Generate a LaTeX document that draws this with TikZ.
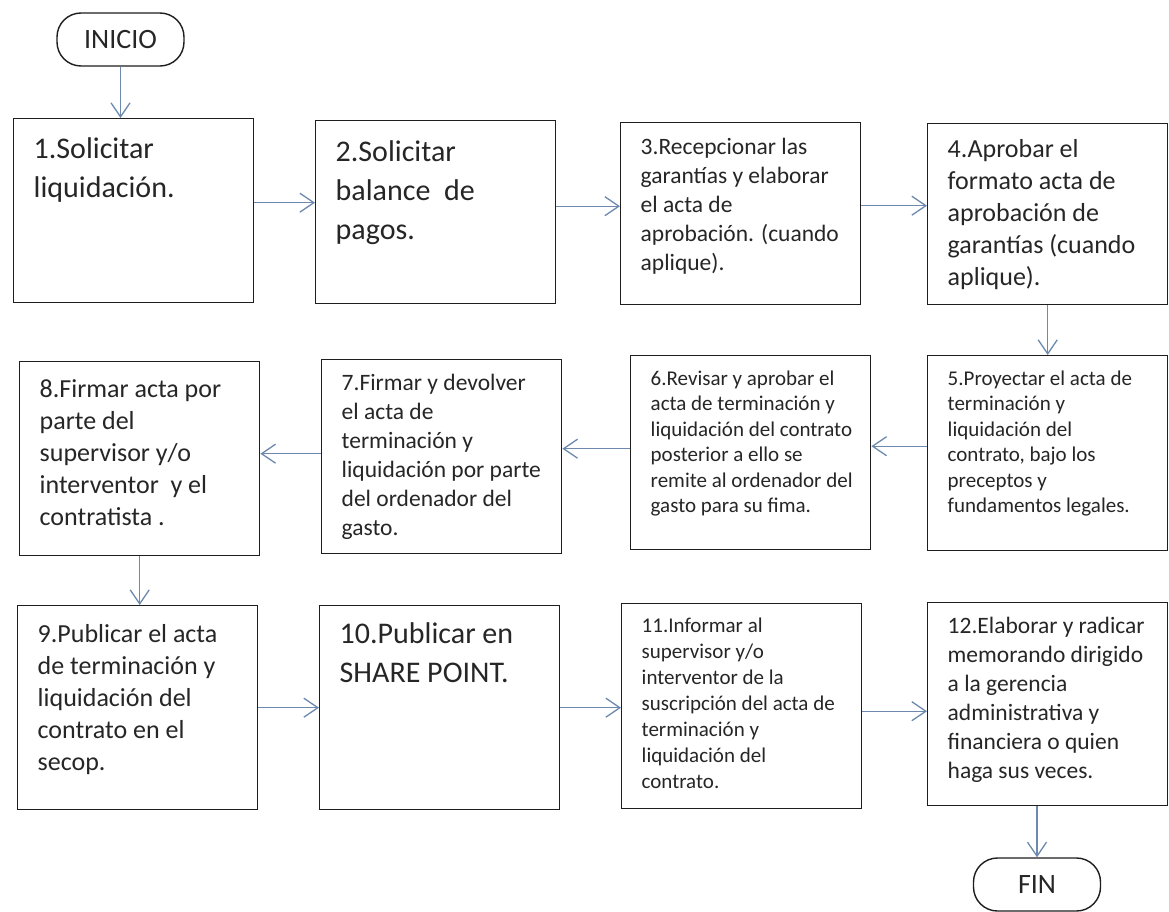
\documentclass[tikz,border=0pt]{standalone}
\usepackage{fontspec}
\setmainfont{Carlito}
\usepackage{xcolor}
\usepackage{tikz}
\usetikzlibrary{calc,arrows.meta}
\definecolor{bg}{HTML}{FFFFFF}
\definecolor{ink}{HTML}{262626}
\definecolor{edge}{HTML}{1E1E1E}
\definecolor{flowc}{HTML}{6D89AE}
\tikzset{
  box/.style={draw=edge, line width=1.4pt, anchor=north west, inner sep=0pt, text=ink},
  term/.style={draw=edge, line width=1.4pt, rounded corners=24pt, minimum width=127pt, minimum height=53pt, inner sep=0pt, text=ink, font=\fontsize{28}{32}\selectfont},
  flow/.style={draw=flowc, line width=1.3pt, -{Straight Barb[length=14pt,width=19pt]}},
  s30/.style={font=\fontsize{30}{39}\selectfont},
  s25/.style={font=\fontsize{26}{32}\selectfont},
  s23/.style={font=\fontsize{23.5}{29}\selectfont},
  s21/.style={font=\fontsize{21}{25.5}\selectfont},
  s20/.style={font=\fontsize{21}{26}\selectfont},
}
\newcommand{\paso}[3]{\parbox[t][#1pt][t]{240pt}{\leftskip=20pt\rightskip=0pt plus 1fil\vspace*{#2pt}#3}}

\begin{document}
\begin{tikzpicture}[x=1pt,y=-1pt]
  \fill[bg] (0,0) rectangle (1169,912);
  \useasboundingbox (0,0) rectangle (1169,912);
  \node[term] (ini) at (120.5,39.5) {INICIO};
  \node[box, s30] (b1) at (13,118) {\paso{184}{19}{1.Solicitar\\liquidación.}};
  \node[box, s30] (b2) at (315,120) {\paso{183}{20}{2.Solicitar\\balance~ de\\pagos.}};
  \node[box, s23] (b3) at (620,122) {\paso{182}{15}{3.Recepcionar las\\garantías y elaborar\\el acta de\\aprobación. (cuando\\aplique).}};
  \node[box, s25] (b4) at (927,123) {\paso{181}{16}{4.Aprobar el\\formato acta de\\aprobación de\\garantías (cuando\\aplique).}};
  \node[box, s21] (b5) at (927,355) {\paso{195}{15}{5.Proyectar el acta de\\terminación y\\liquidación del\\contrato, bajo los\\preceptos y\\fundamentos legales.}};
  \node[box, s21] (b6) at (630,355) {\paso{194}{15}{6.Revisar y aprobar el\\acta de terminación y\\liquidación del contrato\\posterior a ello se\\remite al ordenador del\\gasto para su fima.}};
  \node[box, s23] (b7) at (321,359) {\paso{194}{14}{7.Firmar y devolver\\el acta de\\terminación y\\liquidación por parte\\del ordenador del\\gasto.}};
  \node[box, s25] (b8) at (19,361) {\paso{194}{18}{8.Firmar acta por\\parte del\\supervisor y/o\\interventor~ y el\\contratista .}};
  \node[box, s25] (b9) at (17,605) {\paso{204}{19}{9.Publicar el acta\\de terminación y\\liquidación del\\contrato en el\\secop.}};
  \node[box, s30] (b10) at (319,605) {\paso{204}{17}{10.Publicar en\\SHARE POINT.}};
  \node[box, s20] (b11) at (621,603) {\paso{205}{14}{11.Informar al\\supervisor y/o\\interventor de la\\suscripción del acta de\\terminación y\\liquidación del\\contrato.}};
  \node[box, s23] (b12) at (927,602) {\paso{203}{14}{12.Elaborar y radicar\\memorando dirigido\\a la gerencia\\administrativa y\\financiera o quien\\haga sus veces.}};
  \node[term] (fin) at (1037,884.5) {FIN};

  \draw[flow] (ini.south) -- (ini.south |- b1.north);
  \draw[flow] ([yshift=8pt]b1.east) -- ([yshift=8pt]b1.east -| b2.west);
  \draw[flow] ([yshift=6pt]b2.east) -- ([yshift=6pt]b2.east -| b3.west);
  \draw[flow] ([yshift=8pt]b3.east) -- ([yshift=8pt]b3.east -| b4.west);
  \draw[flow] (b4.south) -- (b4.south |- b5.north);
  \draw[flow] ([yshift=7pt]b5.west) -- ([yshift=7pt]b5.west -| b6.east);
  \draw[flow] ([yshift=4pt]b6.west) -- ([yshift=4pt]b6.west -| b7.east);
  \draw[flow] ([yshift=3pt]b7.west) -- ([yshift=3pt]b7.west -| b8.east);
  \draw[flow] (b8.south) -- (b8.south |- b9.north);
  \draw[flow] (b9.east) -- (b9.east -| b10.west);
  \draw[flow] (b10.east) -- (b10.east -| b11.west);
  \draw[flow] ([yshift=-5pt]b11.east) -- ([yshift=-5pt]b11.east -| b12.west);
  \draw[flow] (fin.north |- b12.south) -- (fin.north);
\end{tikzpicture}
\end{document}
